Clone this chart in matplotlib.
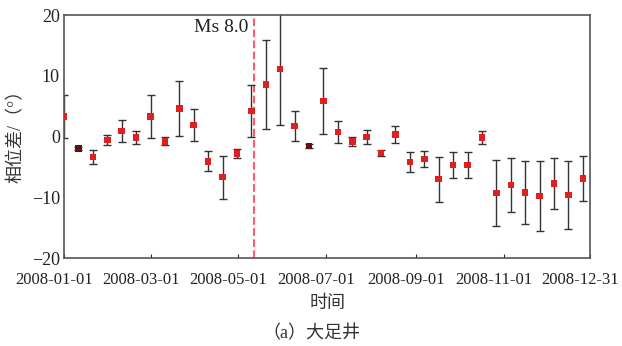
#-*- coding: utf-8 -*-

"""
  Phase difference time series, Dazu well, 2008
"""

import numpy as np
import pandas as pd
import matplotlib
matplotlib.use('Agg')
import matplotlib.pyplot as plt
import matplotlib.dates as mdates
from matplotlib.transforms import ScaledTranslation

plt.rcParams['font.family'] = ['Liberation Serif', 'Noto Sans CJK SC', 'DejaVu Sans']
plt.rcParams['axes.unicode_minus'] = True

# sample dates, one every 10 days
dates = pd.date_range('2008-01-01', periods=37, freq='10D')

phase = [3.3, -2.0, -3.4, -0.6, 0.9, -0.2, 3.3, -0.8, 4.6, 1.9,
         -4.1, -6.7, -2.8, 4.2, 8.55, 11.1, 1.75, -1.55, 5.85, 0.75,
         -0.8, -0.05, -2.7, 0.3, -4.2, -3.7, -7.0, -4.7, -4.7, -0.2,
         -9.3, -8.0, -9.2, -9.8, -7.7, -9.65, -6.9]

err = [3.5, 0.3, 1.2, 0.8, 1.8, 1.05, 3.6, 0.65, 4.55, 2.6,
       1.65, 3.55, 0.75, 4.2, 7.3, 9.2, 2.5, 0.3, 5.5, 1.8,
       0.75, 1.2, 0.55, 1.35, 1.7, 1.35, 3.7, 2.2, 2.2, 1.05,
       5.4, 4.5, 5.25, 5.7, 4.2, 5.6, 3.7]

# points whose marker looks dark in the figure
dark = [1, 17]

quake = pd.Timestamp('2008-05-12')
tick_dates = ['2008-01-01', '2008-03-01', '2008-05-01', '2008-07-01',
              '2008-09-01', '2008-11-01', '2008-12-31']

fig = plt.figure(figsize=(6.22, 3.46), dpi=100)
ax = fig.add_axes([0.103, 0.2543, 0.8456, 0.7023])

ax.errorbar(dates, phase, yerr=err, fmt='none', ecolor='#333333',
            elinewidth=1.0, capsize=3, capthick=1.0, zorder=2)
cols = ['#5a1414' if i in dark else '#e02020' for i in range(len(phase))]
ax.scatter(dates, phase, marker='s', s=22, c=cols, zorder=3, linewidths=0)

ax.axvline(quake, color='#ff5a70', linestyle='--', linewidth=1.5, zorder=1)
ax.text(quake - pd.Timedelta(days=4), 17.9, 'Ms 8.0', ha='right', va='center',
        fontsize=14, color='#222222')

ax.set_xlim(pd.Timestamp('2008-01-01'), pd.Timestamp('2008-12-31'))
ax.set_ylim(-20, 20)
ax.set_xticks(pd.to_datetime(tick_dates))
ax.xaxis.set_major_formatter(mdates.DateFormatter('%Y-%m-%d'))
ax.set_yticks([-20, -10, 0, 10, 20])
ax.tick_params(direction='in', length=3, width=0.8, colors='#222222')
ax.tick_params(axis='x', labelsize=12, pad=10)
ax.tick_params(axis='y', length=0, labelsize=13, pad=3)
# tick labels in the figure sit a little left of their ticks
shift = ScaledTranslation(-10/100, 0, fig.dpi_scale_trans)
for lab in ax.get_xticklabels():
	lab.set_transform(lab.get_transform() + shift)
for s in ax.spines.values():
	s.set_color('#555555')
	s.set_linewidth(1.2)

ax.set_ylabel('相位差/（°）', fontsize=13, color='#333333')
ax.yaxis.set_label_coords(-0.074, 0.52)
ax.set_xlabel('时间', fontsize=13, color='#333333', labelpad=5)
fig.text(0.5, 0.036, '（a）大足井', ha='center', va='center', fontsize=13, color='#333333')

plt.savefig('out.png', dpi=100)
